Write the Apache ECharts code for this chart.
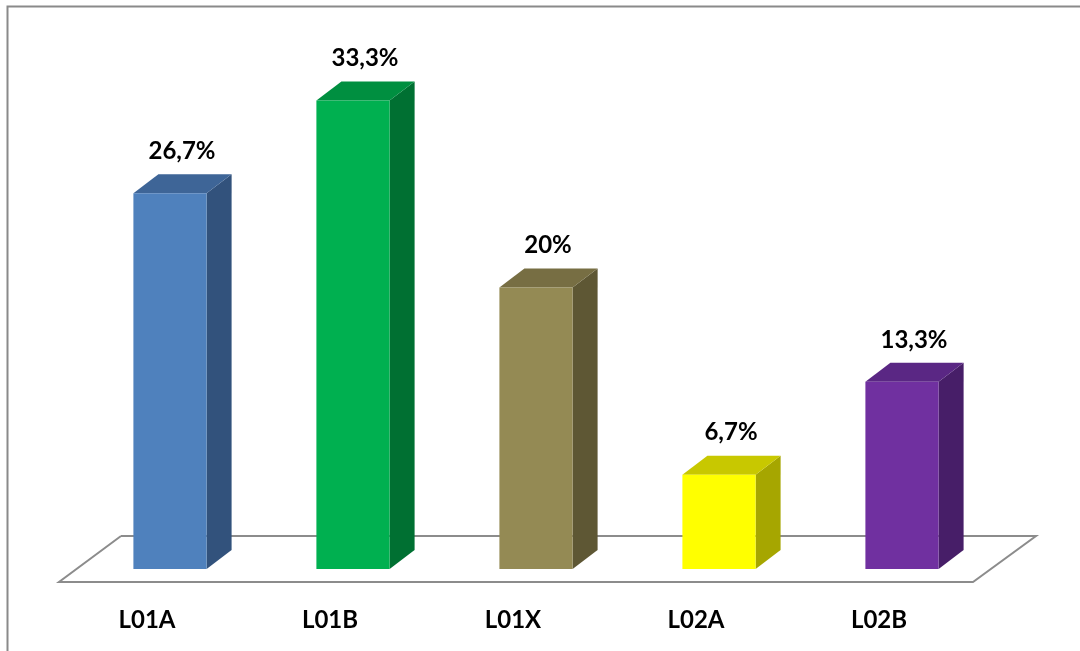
<!DOCTYPE html>
<html><head><meta charset="utf-8">
<style>html,body{margin:0;padding:0;background:#fff}#c{width:1080px;height:651px}</style>
<script src="https://cdn.jsdelivr.net/npm/echarts@6/dist/echarts.min.js"></script>
</head><body><div id="c"></div>
<script>
const categories = ['L01A', 'L01B', 'L01X', 'L02A', 'L02B'];
const values = [26.7, 33.3, 20, 6.7, 13.3];
const valueLabels = ['26,7%', '33,3%', '20%', '6,7%', '13,3%'];
const frontColors = ['#4F81BD', '#00B050', '#948A54', '#FFFF00', '#7030A0'];
const topColors = ['#3E6597', '#008F40', '#776E43', '#C8C800', '#5A2784'];
const sideColors = ['#32527C', '#007032', '#5E5734', '#A6A600', '#471E68'];

const DX = 25, DY = 19;
const chart = echarts.init(document.getElementById('c'));
chart.setOption({
  animation: false,
  backgroundColor: '#fff',
  grid: {left: 78.5, right: 86.5, top: 76.5, bottom: 82},
  xAxis: {
    type: 'category', data: categories,
    axisLine: {show: false}, axisTick: {show: false}, splitLine: {show: false},
    axisLabel: {margin: 39, fontFamily: 'Lato', fontWeight: 'bold', fontSize: 24, color: '#000', padding: [0, 46, 0, 0]}
  },
  yAxis: {type: 'value', min: 0, max: 35, show: false, splitLine: {show: false}},
  graphic: [
    {type: 'polyline', silent: true, z: 0, shape: {points: [[121, 536], [1036, 536], [973, 582], [59, 582], [121, 536]]}, style: {stroke: '#8C8C8C', lineWidth: 2, fill: '#fff'}},
    {type: 'polyline', silent: true, z: 0, shape: {points: [[7.5, 651], [7.5, 6.5], [1080, 6.5]]}, style: {stroke: '#8A8A8A', lineWidth: 2, fill: null}}
  ],
  series: [{
    type: 'custom',
    z: 5,
    data: values.map((v, i) => [i, v]),
    renderItem: function (params, api) {
      const i = api.value(0);
      const top = api.coord([i, api.value(1)]);
      const base = api.coord([i, 0]);
      const w = api.size([1, 0])[0] * 0.4;
      const x0 = top[0] - w / 2, x1 = top[0] + w / 2;
      const y0 = top[1], y1 = base[1];
      return {
        type: 'group',
        children: [
          {type: 'polygon', shape: {points: [[x1, y0], [x1 + DX, y0 - DY], [x1 + DX, y1 - DY], [x1, y1]]}, style: {fill: sideColors[i]}},
          {type: 'polygon', shape: {points: [[x0, y0], [x0 + DX, y0 - DY], [x1 + DX, y0 - DY], [x1, y0]]}, style: {fill: topColors[i]}},
          {type: 'rect', shape: {x: x0, y: y0, width: w, height: y1 - y0}, style: {fill: frontColors[i]}},
          {type: 'text', style: {text: valueLabels[i], x: top[0] + 12, y: y0 - DY - 11, align: 'center', verticalAlign: 'bottom', fontFamily: 'Lato', fontWeight: 'bold', fontSize: 24, fill: '#000'}}
        ]
      };
    }
  }]
});
</script></body></html>
